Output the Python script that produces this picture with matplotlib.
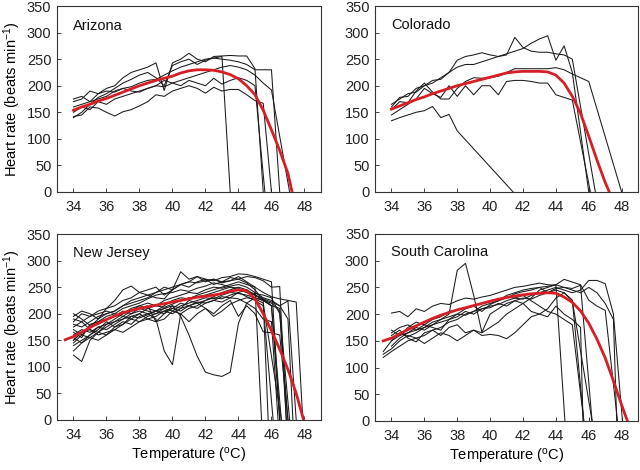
import numpy as np
import matplotlib
matplotlib.use("Agg")
import matplotlib.pyplot as plt

plt.rcParams['font.family'] = ['Liberation Sans', 'DejaVu Sans']
plt.rcParams['mathtext.fontset'] = 'custom'
plt.rcParams['mathtext.rm'] = 'Liberation Sans'
plt.rcParams['mathtext.it'] = 'Liberation Sans'

# ---------------- data ----------------
panel_names = ["Arizona", "Colorado", "New Jersey", "South Carolina"]
x_ticks = [34, 36, 38, 40, 42, 44, 46, 48]
y_ticks = [0, 50, 100, 150, 200, 250, 300, 350]

# individual traces: start temperature, heart rates every 0.5 degC, temperature where HR reaches 0
arizona_start = [34, 34, 34, 34, 34, 34]
arizona_hr = [
    [140, 150, 165, 178, 185, 195, 205, 212, 220, 225, 215, 200, 238, 245, 250, 240, 248, 252, 255],
    [170, 175, 190, 185, 195, 200, 215, 225, 230, 235, 243, 191, 243, 250, 261, 250, 245, 255, 256, 257, 256, 256, 232],
    [160, 165, 170, 185, 190, 188, 195, 198, 205, 210, 212, 220, 228, 235, 240, 245, 250, 252, 250, 248, 245, 240, 230, 230, 230],
    [150, 160, 155, 170, 165, 175, 180, 185, 190, 195, 200, 198, 205, 210, 215, 220, 225, 230, 235, 238, 235, 230, 220, 205, 192],
    [142, 145, 160, 158, 150, 143, 151, 155, 162, 170, 183, 180, 190, 195, 200, 195, 186, 197, 190, 193, 193, 183, 172, 167],
    [175, 180, 170, 175, 180, 190, 195, 190, 188, 195, 200, 210, 205, 200, 210, 205, 200, 214, 203, 210, 215, 210, 200],
]
arizona_drop = [43.5, 45.5, 46.5, 47.1, 46.0, 45.6]

colorado_start = [34, 34, 34, 34, 34]
colorado_hr = [
    [134, 140, 145, 150, 153, 161, 140, 146, 115],
    [160, 178, 180, 195, 200, 205, 215, 225, 248, 255, 258, 262, 258, 255, 258, 291, 272, 265, 263, 263, 260, 258, 250],
    [165, 175, 185, 188, 200, 210, 212, 225, 235, 240, 240, 245, 250, 255, 260, 265, 270, 280, 288, 294, 248, 275, 225],
    [155, 170, 168, 190, 205, 188, 175, 175, 195, 208, 215, 214, 215, 218, 225, 232, 232, 232, 232, 232, 234, 230, 222, 215, 208],
    [145, 155, 165, 175, 195, 185, 178, 200, 180, 200, 183, 200, 200, 183, 208, 210, 210, 208, 205, 205, 183, 178, 173],
]
colorado_drop = [41.4, 46.4, 46.0, 48.0, 46.1]

newjersey_start = [34] * 16
newjersey_hr = [
    [150, 165, 175, 190, 200, 205, 215, 225, 230, 235, 240, 245, 250, 255, 260, 270, 265, 262, 268, 270, 275, 274, 270, 265, 260],
    [185, 200, 195, 205, 210, 215, 225, 230, 240, 235, 230, 228, 245, 255, 260, 258, 262, 265, 260, 262, 265, 270, 268, 262, 250, 251],
    [170, 160, 175, 180, 190, 195, 200, 205, 210, 205, 200, 210, 215, 195, 160, 120, 90, 85, 82, 90, 182, 220, 230, 225, 215],
    [160, 170, 165, 175, 180, 185, 190, 200, 205, 200, 190, 130, 104, 200, 210, 215, 225, 230, 228, 235, 240, 232, 225, 215],
    [122, 110, 150, 165, 160, 175, 185, 180, 195, 200, 205, 210, 205, 215, 220, 225, 230, 228, 235, 240, 238, 235, 230, 225, 220, 205],
    [195, 205, 200, 190, 210, 225, 245, 252, 240, 245, 250, 235, 245, 279, 265, 270, 260, 265, 258, 262, 270, 260, 250],
    [175, 185, 170, 165, 180, 190, 200, 210, 215, 210, 205, 215, 225, 230, 228, 235, 240, 245, 250, 255, 260, 255, 250, 240, 232, 228, 225, 222],
    [140, 150, 160, 175, 170, 180, 190, 195, 192, 198, 205, 200, 210, 220, 215, 222, 220, 225, 232, 230, 228, 220, 210, 190, 185],
    [155, 145, 160, 170, 185, 175, 180, 195, 200, 190, 185, 200, 215, 210, 225, 220, 210, 200, 215, 225, 195, 215, 200, 166, 164, 160],
    [180, 175, 185, 195, 200, 205, 215, 220, 225, 230, 240, 250, 245, 255, 250, 260, 265, 255, 260, 268, 265, 258, 245, 225],
    [165, 155, 180, 185, 195, 200, 195, 205, 215, 220, 215, 225, 230, 235, 240, 238, 245, 250, 248, 252, 255, 250, 240, 230, 225, 215, 190],
    [145, 160, 155, 165, 175, 185, 195, 190, 200, 210, 215, 212, 218, 225, 230, 232, 235, 240, 245, 250, 248, 240, 235, 228, 222, 215, 224],
    [190, 185, 195, 200, 205, 200, 210, 215, 220, 228, 235, 238, 240, 245, 242, 248, 252, 258, 255, 250, 245, 240, 238, 235, 230, 200],
    [200, 190, 178, 185, 190, 195, 205, 200, 210, 215, 185, 190, 205, 200, 185, 200, 210, 195, 205, 218, 225, 230, 228, 220],
    [150, 165, 170, 160, 165, 170, 180, 190, 185, 195, 200, 205, 200, 210, 215, 210, 220, 225, 222, 230, 240, 245, 235, 225, 215, 210],
    [130, 145, 155, 150, 160, 170, 165, 175, 185, 190, 195, 205, 210, 205, 215, 220, 225, 232, 240, 245, 250, 245, 235, 228, 215],
]
newjersey_drop = [46.5, 46.9, 46.6, 46.1, 47.1, 45.4, 47.9, 46.4, 47.0, 45.8, 47.3, 47.5, 47.0, 46.6, 46.9, 46.5]

southcarolina_start = [34, 34, 33.5, 33.5, 34, 34, 34, 34, 33.5]
southcarolina_hr = [
    [150, 160, 165, 175, 170, 180, 190, 200, 282, 295, 235, 166, 200, 210, 220, 225, 230, 228, 235, 240, 245, 240, 226],
    [202, 205, 195, 210, 205, 215, 220, 218, 225, 230, 228, 232, 235, 240, 245, 250, 252, 255, 258, 255, 254],
    [119, 130, 140, 150, 155, 160, 170, 175, 185, 190, 200, 205, 215, 220, 225, 230, 238, 242, 245, 250, 252, 255, 250, 248, 254],
    [125, 135, 150, 160, 155, 145, 155, 165, 160, 150, 160, 170, 165, 175, 185, 200, 210, 220, 230, 245, 250, 255, 265, 260, 255, 226, 215, 207],
    [165, 175, 180, 170, 175, 185, 190, 195, 200, 198, 205, 210, 215, 218, 225, 230, 228, 235, 240, 245, 250, 245, 240, 245, 263, 263, 257, 200],
    [160, 170, 155, 148, 165, 170, 160, 175, 180, 165, 170, 160, 162, 160, 154, 165, 180, 195, 200, 195, 215, 200, 190, 175],
    [140, 155, 165, 170, 180, 190, 195, 205, 208, 212, 215, 220, 225, 228, 232, 230, 235, 225, 215, 205, 200, 190, 180],
    [170, 160, 175, 185, 180, 175, 170, 190, 200, 210, 215, 205, 218, 225, 235, 240, 245, 248, 250, 240, 248, 250, 245, 240, 250, 240, 220, 190],
    [130, 150, 165, 158, 165, 175, 180, 185, 190, 195, 205, 200, 210, 212, 220, 215, 225, 220, 205, 200, 210, 230, 240, 225],
]
southcarolina_drop = [45.7, 44.55, 46.2, 47.75, 48.05, 45.65, 45.7, 47.7, 46.2]

# fitted curves (red)
arizona_fit_t = [34, 34.5, 35, 35.5, 36, 36.5, 37, 37.5, 38, 38.5, 39, 39.5, 40, 40.5, 41, 41.5, 42, 42.5, 43, 43.5, 44, 44.5, 45, 45.5, 46, 46.5, 47, 47.25]
arizona_fit_hr = [154, 160, 165, 171, 176, 182, 188, 194, 200, 205, 210, 214, 218, 224, 228, 230, 230, 229, 226, 221, 213, 200, 183, 154, 117, 78, 35, 0]
colorado_fit_t = [34, 34.5, 35, 35.5, 36, 36.5, 37, 37.5, 38, 38.5, 39, 39.5, 40, 40.5, 41, 41.5, 42, 42.5, 43, 43.5, 44, 44.5, 45, 45.5, 46, 46.5, 47, 47.25]
colorado_fit_hr = [156, 162, 168, 174, 179, 185, 190, 195, 200, 204, 208, 212, 216, 220, 224, 226, 227, 227, 227, 226, 220, 205, 180, 148, 105, 60, 18, 0]
newjersey_fit_t = [33.5, 34, 34.5, 35, 35.5, 36, 36.5, 37, 37.5, 38, 38.5, 39, 39.5, 40, 40.5, 41, 41.5, 42, 42.5, 43, 43.5, 44, 44.5, 45, 45.5, 46, 46.5, 47, 47.5, 47.95]
newjersey_fit_hr = [151, 157, 165, 174, 182, 189, 196, 202, 206, 210, 213, 216, 219, 222, 225, 228, 231, 233, 235, 238, 242, 245, 243, 228, 200, 168, 133, 95, 50, 0]
southcarolina_fit_t = [33.5, 34, 34.5, 35, 35.5, 36, 36.5, 37, 37.5, 38, 38.5, 39, 39.5, 40, 40.5, 41, 41.5, 42, 42.5, 43, 43.5, 44, 44.5, 45, 45.5, 46, 46.5, 47, 47.5, 48, 48.35]
southcarolina_fit_hr = [150, 155, 163, 171, 178, 185, 192, 198, 203, 208, 212, 216, 220, 224, 228, 231, 234, 236, 238, 239, 240, 239, 232, 222, 206, 183, 153, 118, 75, 30, 0]

panels = [
    (arizona_start, arizona_hr, arizona_drop, arizona_fit_t, arizona_fit_hr),
    (colorado_start, colorado_hr, colorado_drop, colorado_fit_t, colorado_fit_hr),
    (newjersey_start, newjersey_hr, newjersey_drop, newjersey_fit_t, newjersey_fit_hr),
    (southcarolina_start, southcarolina_hr, southcarolina_drop, southcarolina_fit_t, southcarolina_fit_hr),
]

# ---------------- figure ----------------
fig = plt.figure(figsize=(6.4, 4.7), dpi=100)
positions = [
    [0.089, 0.5915, 0.4125, 0.3957],
    [0.586, 0.5915, 0.411, 0.3957],
    [0.089, 0.1064, 0.4125, 0.3957],
    [0.586, 0.1043, 0.411, 0.3979],
]
label_y = [0.87, 0.875, 0.878, 0.884]

for i, (pos, name, data) in enumerate(zip(positions, panel_names, panels)):
    ax = fig.add_axes(pos)
    starts, hrs, drops, ft, fh = data
    for s, vals, d in zip(starts, hrs, drops):
        t = list(s + 0.5 * np.arange(len(vals))) + [d]
        h = list(vals) + [0]
        ax.plot(t, h, color='#1a1a1a', lw=0.75, zorder=2)
    ax.plot(ft, fh, color='#d81e25', lw=2.0, zorder=3)
    ax.set_xlim(33, 49)
    ax.set_ylim(0, 350)
    ax.set_xticks(x_ticks)
    ax.set_yticks(y_ticks)
    ax.tick_params(direction='in', length=3, width=0.6, labelsize=10.5, colors='#222222', pad=4)
    ax.tick_params(axis='x', pad=6)
    for sp in ax.spines.values():
        sp.set_linewidth(0.8)
        sp.set_color('#333333')
    ax.text(0.06, label_y[i], name, transform=ax.transAxes, fontsize=10.5, va='baseline', ha='left', color='#111111')
    if i in (0, 2):
        ax.set_ylabel('Heart rate (beats min$^{-1}$)', fontsize=10.5, labelpad=3)
    if i in (2, 3):
        ax.set_xlabel('Temperature ($^{\\mathrm{o}}$C)', fontsize=10.5, labelpad=3)

fig.savefig('out.png', dpi=100)
